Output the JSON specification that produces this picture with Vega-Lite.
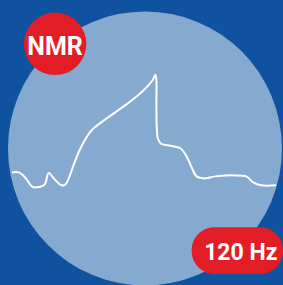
{
  "$schema": "https://vega.github.io/schema/vega-lite/v6.json",
  "width": 283,
  "height": 285,
  "autosize": {"type": "fit", "contains": "padding"},
  "padding": 0,
  "background": "#0e52a0",
  "config": {"view": {"stroke": null}, "axis": {"disable": true}},
  "datasets": {
    "disc": [{"x": 146, "y": 149}],
    "badge": [{"x": 55.5, "y": 44, "label": "NMR", "tx": 55.5, "ty": 55}],
    "pill": [{"x": 193, "x2": 285, "y": 228, "y2": 275, "label": "120 Hz", "tx": 242.5, "ty": 261}],
    "spectrum": [
      {"x": 12, "y": 173}, {"x": 19, "y": 173}, {"x": 26, "y": 179}, {"x": 32, "y": 187},
      {"x": 37, "y": 188}, {"x": 45, "y": 185}, {"x": 49, "y": 173.5}, {"x": 55, "y": 180},
      {"x": 62, "y": 186}, {"x": 66, "y": 185}, {"x": 70, "y": 177}, {"x": 74, "y": 166},
      {"x": 80, "y": 151}, {"x": 87, "y": 138}, {"x": 93, "y": 130}, {"x": 110, "y": 117},
      {"x": 127, "y": 105}, {"x": 143, "y": 92}, {"x": 154, "y": 80}, {"x": 156.5, "y": 75},
      {"x": 157.5, "y": 80}, {"x": 157.5, "y": 105}, {"x": 158, "y": 130}, {"x": 159, "y": 139},
      {"x": 162, "y": 144}, {"x": 170, "y": 146}, {"x": 182, "y": 149}, {"x": 188, "y": 157},
      {"x": 193, "y": 168}, {"x": 198, "y": 177}, {"x": 205, "y": 179}, {"x": 217, "y": 177},
      {"x": 237, "y": 176}, {"x": 248, "y": 177}, {"x": 255, "y": 183}, {"x": 263, "y": 186},
      {"x": 278, "y": 186}
    ]
  },
  "layer": [
    {
      "data": {"name": "disc"},
      "mark": {"type": "point", "shape": "circle", "filled": true, "size": 75076, "color": "#86a9cf", "opacity": 1},
      "encoding": {
        "x": {"field": "x", "type": "quantitative", "scale": {"domain": [0, 283], "nice": false, "zero": false}},
        "y": {"field": "y", "type": "quantitative", "scale": {"domain": [285, 0], "nice": false, "zero": false}}
      }
    },
    {
      "data": {"name": "spectrum"},
      "mark": {"type": "line", "color": "white", "strokeWidth": 2, "interpolate": "catmull-rom"},
      "encoding": {
        "x": {"field": "x", "type": "quantitative"},
        "y": {"field": "y", "type": "quantitative"}
      }
    },
    {
      "data": {"name": "badge"},
      "mark": {"type": "point", "shape": "circle", "filled": true, "size": 3900, "color": "#e31d25", "opacity": 1},
      "encoding": {
        "x": {"field": "x", "type": "quantitative"},
        "y": {"field": "y", "type": "quantitative"}
      }
    },
    {
      "data": {"name": "badge"},
      "mark": {"type": "text", "color": "white", "font": "Roboto", "fontWeight": "bold", "fontSize": 25, "align": "center", "baseline": "alphabetic"},
      "encoding": {
        "x": {"field": "tx", "type": "quantitative"},
        "y": {"field": "ty", "type": "quantitative"},
        "text": {"field": "label"}
      }
    },
    {
      "data": {"name": "pill"},
      "mark": {"type": "rect", "color": "#e31d25", "cornerRadius": 23, "clip": false},
      "encoding": {
        "x": {"field": "x", "type": "quantitative"},
        "x2": {"field": "x2"},
        "y": {"field": "y", "type": "quantitative"},
        "y2": {"field": "y2"}
      }
    },
    {
      "data": {"name": "pill"},
      "mark": {"type": "text", "color": "white", "font": "Roboto", "fontWeight": "bold", "fontSize": 23, "align": "center", "baseline": "alphabetic"},
      "encoding": {
        "x": {"field": "tx", "type": "quantitative"},
        "y": {"field": "ty", "type": "quantitative"},
        "text": {"field": "label"}
      }
    }
  ]
}
